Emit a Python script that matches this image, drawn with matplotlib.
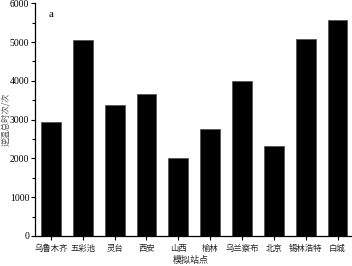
import matplotlib
matplotlib.use('Agg')
import matplotlib.pyplot as plt
from matplotlib.ticker import MultipleLocator

plt.rcParams['font.family'] = ['Liberation Serif', 'Noto Sans CJK SC']

sites = ['乌鲁木齐', '五彩池', '灵台', '西安', '山西', '榆林', '乌兰察布', '北京', '锡林浩特', '白城']
counts = [2930, 5065, 3385, 3650, 2000, 2750, 3995, 2330, 5090, 5580]

fig = plt.figure(figsize=(3.52, 2.66), dpi=100)
ax = fig.add_axes([0.0994, 0.1128, 0.905, 0.875])

x = range(len(sites))
ax.bar(x, counts, width=0.62, color='black', edgecolor='#555555', linewidth=0.6)

ax.set_xlim(-0.5, 9.5)
ax.set_ylim(0, 6000)
ax.set_xticks(list(x))
ax.set_xticklabels(sites, fontsize=6, family=['Noto Sans CJK SC'], color='#222222')
ax.yaxis.set_major_locator(MultipleLocator(1000))
ax.yaxis.set_minor_locator(MultipleLocator(500))
ax.tick_params(axis='y', labelsize=7, length=3, width=0.8, pad=1)
ax.tick_params(axis='y', which='minor', length=2, width=0.8)
ax.tick_params(axis='x', length=3, width=0.8, pad=3)

ax.spines['top'].set_visible(False)
ax.spines['right'].set_visible(False)
ax.spines['left'].set_linewidth(0.9)
ax.spines['bottom'].set_linewidth(0.9)

ax.set_xlabel('模拟站点', fontsize=6.5, family=['Noto Sans CJK SC'], color='#222222')
ax.xaxis.set_label_coords(0.49, -0.085)
ax.set_ylabel('逆温总时次/次', fontsize=6, family=['Noto Sans CJK SC'], color='#555555')
ax.yaxis.set_label_coords(-0.078, 0.5)
ax.text(0.044, 0.95, 'a', transform=ax.transAxes, fontsize=8, va='center')

fig.savefig('out.png', dpi=100)
